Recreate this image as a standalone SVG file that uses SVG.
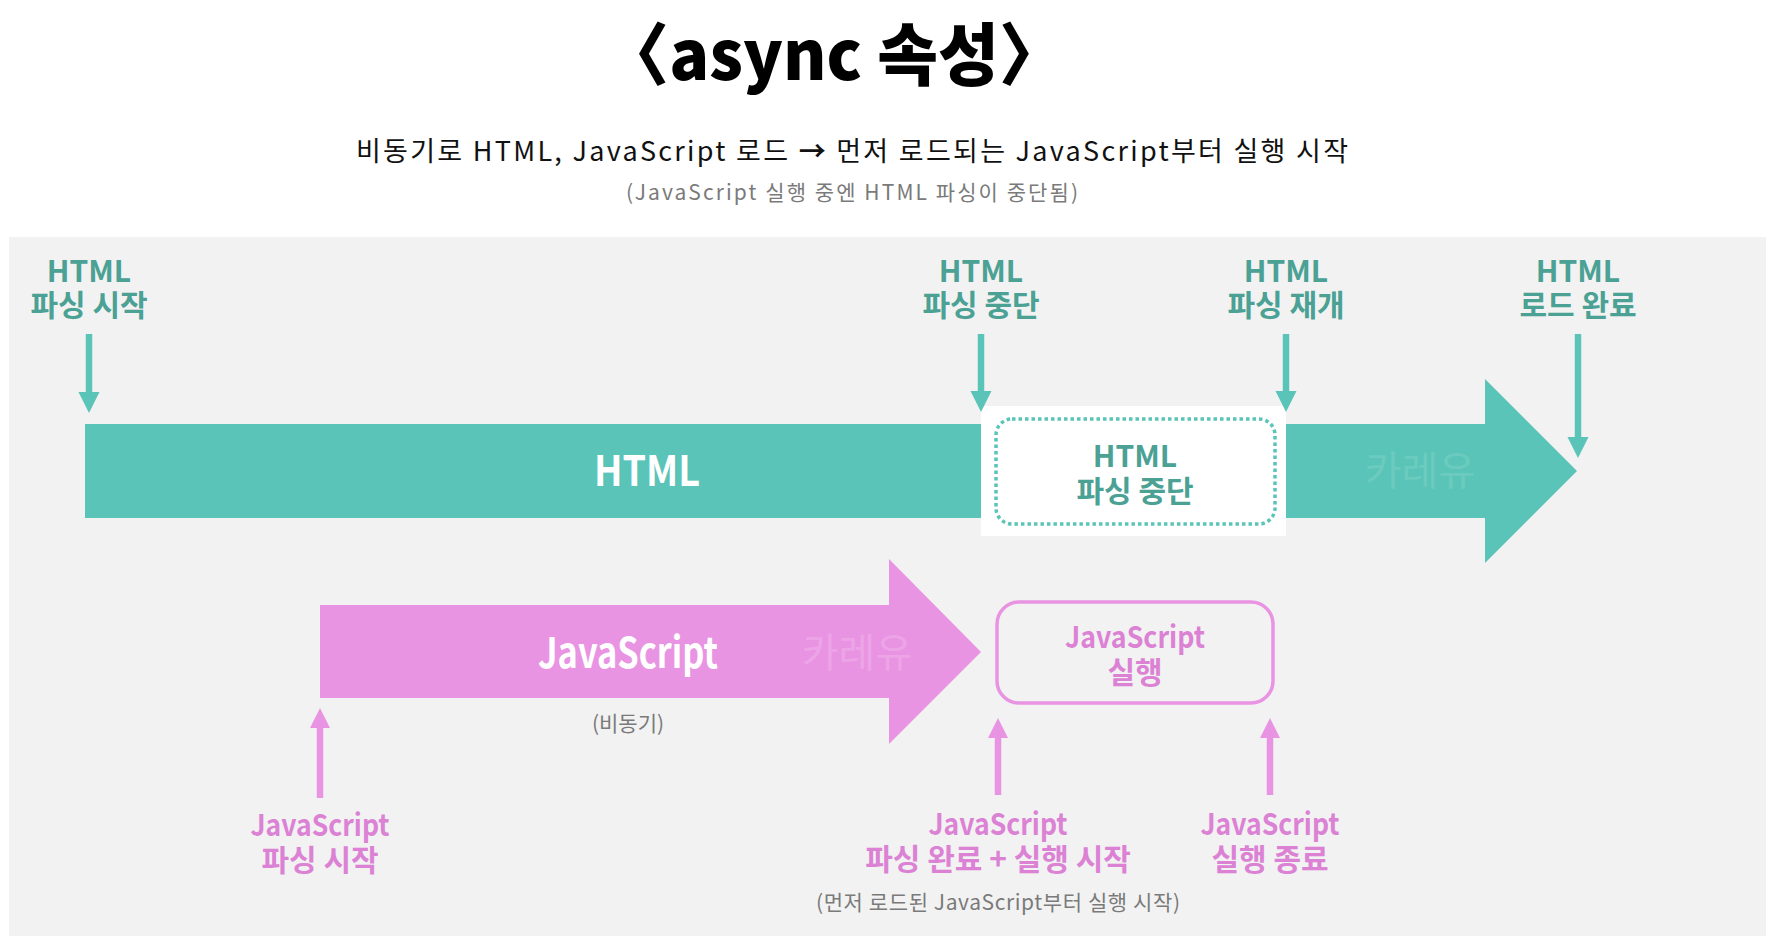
<svg xmlns="http://www.w3.org/2000/svg" width="1776" height="946" viewBox="0 0 1776 946">
<style>
  text { font-family: "Noto Sans CJK KR", "Noto Sans", sans-serif; text-anchor: middle; }
  .title { font-size: 68px; font-weight: 900; fill: #000; }
  .sub { font-size: 27px; font-weight: 400; fill: #111; }
  .note { font-size: 21px; font-weight: 400; fill: #7a7a7a; }
  .tl { font-size: 30px; font-weight: 700; fill: #4aa194; }
  .pl { font-size: 30px; font-weight: 700; fill: #dc82d5; }
  .big { font-size: 42px; font-weight: 700; fill: #fff; }
  .wmT { font-size: 40px; font-weight: 400; fill: #6ccbbf; }
  .wmP { font-size: 40px; font-weight: 400; fill: #eda4e7; }
  .tarr { stroke: #5bc4b8; stroke-width: 6.5; fill: none; }
  .parr { stroke: #e994e2; stroke-width: 6.5; fill: none; }
</style>
<defs>
  <marker id="headT" markerUnits="userSpaceOnUse" markerWidth="22" markerHeight="22" viewBox="0 -11 21 22" refX="0" refY="0" orient="auto">
    <path d="M0,-10.5 L21,0 L0,10.5 Z" fill="#5bc4b8"/>
  </marker>
  <marker id="headP" markerUnits="userSpaceOnUse" markerWidth="22" markerHeight="22" viewBox="0 -11 20 22" refX="0" refY="0" orient="auto">
    <path d="M0,-10 L20,0 L0,10 Z" fill="#e994e2"/>
  </marker>
</defs>

<rect x="0" y="0" width="1776" height="946" fill="#ffffff"/>

<g id="header">
  <text class="title" x="834" y="80" textLength="462" lengthAdjust="spacingAndGlyphs">〈async 속성〉</text>
  <text class="sub" x="852" y="161" textLength="992" lengthAdjust="spacing">비동기로 HTML, JavaScript 로드 <tspan font-weight="700">→</tspan> 먼저 로드되는 JavaScript부터 실행 시작</text>
  <text class="note" x="852" y="200" textLength="452" lengthAdjust="spacing">(JavaScript 실행 중엔 HTML 파싱이 중단됨)</text>
</g>

<rect id="panel" x="9" y="237" width="1757" height="699" fill="#f2f2f2"/>

<g id="html-bar">
  <path d="M85,424 H1485 V379 L1577,471 L1485,563 V518 H85 Z" fill="#5bc4b8"/>
  <text class="big" x="647" y="486" textLength="106" lengthAdjust="spacingAndGlyphs">HTML</text>
  <text class="wmT" x="1420" y="485">카레유</text>
</g>

<g id="html-paused">
  <rect x="981" y="406" width="305" height="130" fill="#ffffff"/>
  <rect x="996" y="419" width="279" height="105" rx="16" fill="none" stroke="#5bc4b8" stroke-width="3.5" stroke-dasharray="3.5 3"/>
  <text class="tl" x="1135" y="467">HTML<tspan x="1135" dy="35">파싱 중단</tspan></text>
</g>

<g id="js-bar">
  <path d="M320,605 H889 V559 L981,652 L889,744 V698 H320 Z" fill="#e994e2"/>
  <text class="big" x="628" y="668" textLength="180" lengthAdjust="spacingAndGlyphs">JavaScript</text>
  <text class="wmP" x="857" y="667">카레유</text>
  <text class="note" x="628" y="731">(비동기)</text>
</g>

<g id="js-exec">
  <rect x="997" y="602" width="276" height="101" rx="22" fill="none" stroke="#e994e2" stroke-width="3.5"/>
  <text class="pl" x="1135" y="648" textLength="140" lengthAdjust="spacingAndGlyphs">JavaScript</text>
  <text class="pl" x="1135" y="683">실행</text>
</g>

<g id="label-html-start">
  <text class="tl" x="89" y="282">HTML<tspan x="89" dy="34">파싱 시작</tspan></text>
</g>
<g id="label-html-pause">
  <text class="tl" x="981" y="282">HTML<tspan x="981" dy="34">파싱 중단</tspan></text>
</g>
<g id="label-html-resume">
  <text class="tl" x="1286" y="282">HTML<tspan x="1286" dy="34">파싱 재개</tspan></text>
</g>
<g id="label-html-done">
  <text class="tl" x="1578" y="282">HTML<tspan x="1578" dy="34">로드 완료</tspan></text>
</g>

<g id="label-js-start">
  <text class="pl" x="320" y="836"><tspan textLength="139" lengthAdjust="spacingAndGlyphs">JavaScript</tspan><tspan x="320" dy="35">파싱 시작</tspan></text>
</g>
<g id="label-js-run">
  <text class="pl" x="998" y="835"><tspan textLength="139" lengthAdjust="spacingAndGlyphs">JavaScript</tspan><tspan x="998" dy="35">파싱 완료 + 실행 시작</tspan></text>
  <text class="note" x="998" y="910" textLength="364" lengthAdjust="spacing">(먼저 로드된 JavaScript부터 실행 시작)</text>
</g>
<g id="label-js-end">
  <text class="pl" x="1270" y="835"><tspan textLength="139" lengthAdjust="spacingAndGlyphs">JavaScript</tspan><tspan x="1270" dy="35">실행 종료</tspan></text>
</g>

<g id="connectors">
  <line class="tarr" x1="89" y1="334" x2="89" y2="392" marker-end="url(#headT)"/>
  <line class="tarr" x1="981" y1="334" x2="981" y2="391" marker-end="url(#headT)"/>
  <line class="tarr" x1="1286" y1="334" x2="1286" y2="391" marker-end="url(#headT)"/>
  <line class="tarr" x1="1578" y1="334" x2="1578" y2="437" marker-end="url(#headT)"/>
  <line class="parr" x1="320" y1="798" x2="320" y2="728" marker-end="url(#headP)"/>
  <line class="parr" x1="998" y1="795" x2="998" y2="738" marker-end="url(#headP)"/>
  <line class="parr" x1="1270" y1="795" x2="1270" y2="738" marker-end="url(#headP)"/>
</g>
</svg>
